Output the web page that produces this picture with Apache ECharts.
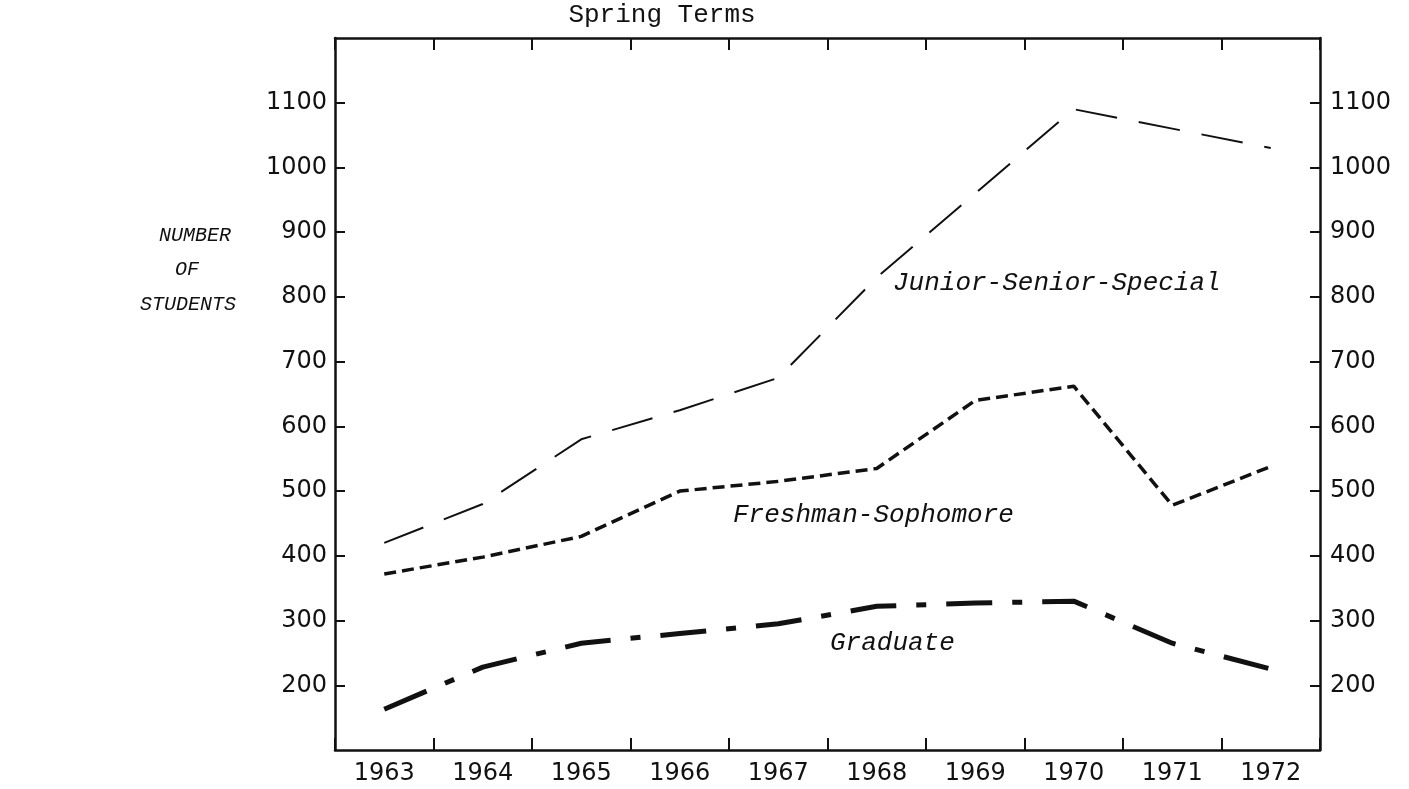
<!DOCTYPE html>
<html>
<head>
<meta charset="utf-8">
<script src="https://cdn.jsdelivr.net/npm/echarts@6/dist/echarts.min.js"></script>
<style>html,body{margin:0;padding:0;background:#fff;}#c{width:1409px;height:789px;}</style>
</head>
<body>
<div id="c"></div>
<script>
const years = ['1963','1964','1965','1966','1967','1968','1969','1970','1971','1972'];
const juniorSeniorSpecial = [420, 480, 580, 625, 675, 830, 960, 1090, 1060, 1030];
const freshmanSophomore = [372, 398, 430, 500, 515, 535, 640, 662, 478, 538];
const graduate = [163, 228, 265, 280, 295, 322, 327, 330, 265, 225];
const yMin = 100, yMax = 1200, yStep = 100;

const ink = '#111';
const tickFont = {fontFamily: 'DejaVu Sans', fontSize: 24, color: ink};

const chart = echarts.init(document.getElementById('c'), null, {renderer: 'canvas'});
const xCommon = {
  type: 'category', data: years, boundaryGap: true,
  axisLine: {show: true, lineStyle: {color: ink, width: 2.5}},
  axisTick: {show: true, inside: true, length: 12, lineStyle: {color: ink, width: 2}},
  splitLine: {show: false}
};
const yFmt = function (v) { return String(v); };
const yCommon = {
  type: 'value', min: yMin, max: yMax, interval: yStep,
  axisLine: {show: true, lineStyle: {color: ink, width: 2.5}},
  axisTick: {show: true, inside: true, length: 10, lineStyle: {color: ink, width: 2}},
  splitLine: {show: false}
};
chart.setOption({
  animation: false,
  grid: {left: 335, right: 89, top: 38, bottom: 39, containLabel: false},
  xAxis: [
    Object.assign({}, xCommon, {position: 'bottom', axisLabel: Object.assign({margin: 12}, tickFont)}),
    Object.assign({}, xCommon, {position: 'top', axisLabel: {show: false}})
  ],
  yAxis: [
    Object.assign({}, yCommon, {position: 'left', axisLabel: Object.assign({margin: 8, showMinLabel: false, showMaxLabel: false, formatter: yFmt}, tickFont)}),
    Object.assign({}, yCommon, {position: 'right', axisLabel: Object.assign({margin: 10, showMinLabel: false, showMaxLabel: false, formatter: yFmt}, tickFont)})
  ],
  series: [
    {name: 'Junior-Senior-Special', type: 'line', data: juniorSeniorSpecial, symbol: 'none',
     lineStyle: {color: ink, width: 2, type: [42, 22]}},
    {name: 'Freshman-Sophomore', type: 'line', data: freshmanSophomore, symbol: 'none',
     lineStyle: {color: ink, width: 3.5, type: [12, 6]}},
    {name: 'Graduate', type: 'line', data: graduate, symbol: 'none',
     lineStyle: {color: ink, width: 5, type: [46, 20, 10, 20]}}
  ],
  graphic: [
    {type: 'text', x: 662, y: 15, style: {text: 'Spring Terms', font: '26px "Liberation Mono"', fill: ink, textAlign: 'center', textVerticalAlign: 'middle'}},
    {type: 'text', x: 893, y: 283, style: {text: 'Junior-Senior-Special', font: 'italic 26px "Liberation Mono"', fill: ink, textAlign: 'left', textVerticalAlign: 'middle'}},
    {type: 'text', x: 733, y: 515, style: {text: 'Freshman-Sophomore', font: 'italic 26px "Liberation Mono"', fill: ink, textAlign: 'left', textVerticalAlign: 'middle'}},
    {type: 'text', x: 830, y: 643, style: {text: 'Graduate', font: 'italic 26px "Liberation Mono"', fill: ink, textAlign: 'left', textVerticalAlign: 'middle'}},
    {type: 'text', x: 195, y: 236, style: {text: 'NUMBER', font: 'italic 20px "Liberation Mono"', fill: ink, textAlign: 'center', textVerticalAlign: 'middle'}},
    {type: 'text', x: 187, y: 270, style: {text: 'OF', font: 'italic 20px "Liberation Mono"', fill: ink, textAlign: 'center', textVerticalAlign: 'middle'}},
    {type: 'text', x: 188, y: 305, style: {text: 'STUDENTS', font: 'italic 20px "Liberation Mono"', fill: ink, textAlign: 'center', textVerticalAlign: 'middle'}}
  ]
});
</script>
</body>
</html>
